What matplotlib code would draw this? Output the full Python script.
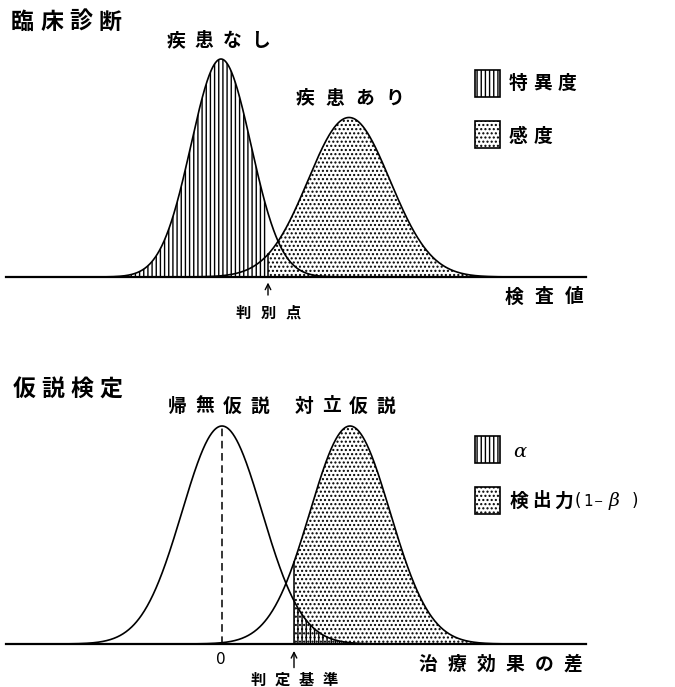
import numpy as np
import matplotlib
matplotlib.use('Agg')
import matplotlib.pyplot as plt
from matplotlib.patches import Rectangle

plt.rcParams['font.family'] = ['Noto Sans CJK JP', 'DejaVu Sans']
plt.rcParams['hatch.linewidth'] = 1.0

W, H = 675, 687

# 臨床診断: 検査値の分布 (任意単位)
healthy_mean, healthy_sd = 100, 15
sick_mean, sick_sd = 164, 20.5
cutoff_top = 123.5
xlim_top = (-7.5, 282.5)

# 仮説検定: 治療効果の差 (標準化)
null_mean, alt_mean, effect_sd = 0.0, 3.2, 1.0
cutoff_bot = 1.8
xlim_bot = (-5.4, 9.1)


def pdf(x, m, s):
    return np.exp(-0.5 * ((x - m) / s) ** 2) / (s * np.sqrt(2 * np.pi))


def px(x, y):
    # pixel position -> figure fraction
    return x / W, 1 - y / H


def spaced(x0, y, s, size, pitch, **kw):
    # letter-spaced label, x0 = centre of first character
    for i, ch in enumerate(s):
        fig.text(*px(x0 + i * pitch, y), ch, fontsize=size, ha='center',
                 va='center', fontweight='bold', **kw)


def legend_box(x, y, hatch):
    fig.add_artist(Rectangle(px(x, y + 27), 25 / W, 27 / H, transform=fig.transFigure,
                             facecolor='none', edgecolor='k', lw=1.2, hatch=hatch))


fig = plt.figure(figsize=(W / 100, H / 100), dpi=100)

# ---------- 臨床診断 ----------
ax1 = fig.add_axes([6 / W, (H - 277) / H, 580 / W, 260 / H])
x = np.linspace(*xlim_top, 1200)
xl = np.linspace(xlim_top[0], cutoff_top, 600)
xr = np.linspace(cutoff_top, xlim_top[1], 600)
ax1.fill_between(xl, 0, pdf(xl, healthy_mean, healthy_sd), facecolor='none',
                 edgecolor='k', lw=0, hatch='||||')
ax1.fill_between(xr, 0, pdf(xr, sick_mean, sick_sd), facecolor='none',
                 edgecolor='k', lw=0, hatch='....')
ax1.plot(x, pdf(x, healthy_mean, healthy_sd), 'k', lw=1.2)
ax1.plot(x, pdf(x, sick_mean, sick_sd), 'k', lw=1.2)
ax1.plot([cutoff_top, cutoff_top], [0, pdf(cutoff_top, sick_mean, sick_sd)], 'k', lw=1.1)
ax1.axhline(0, color='k', lw=1.6, clip_on=False)
ax1.annotate('', xy=(cutoff_top, 0), xytext=(0, -13), textcoords='offset points',
             arrowprops=dict(arrowstyle='->', lw=1.0, color='k', shrinkA=0, shrinkB=4),
             annotation_clip=False)
ax1.set_xlim(xlim_top)
ax1.set_ylim(0, pdf(healthy_mean, healthy_mean, healthy_sd) * 260 / 218)
ax1.axis('off')

# ---------- 仮説検定 ----------
ax2 = fig.add_axes([6 / W, (H - 644) / H, 580 / W, 260 / H])
x = np.linspace(*xlim_bot, 1200)
xr = np.linspace(cutoff_bot, xlim_bot[1], 600)
ax2.fill_between(xr, 0, pdf(xr, alt_mean, effect_sd), facecolor='none',
                 edgecolor='k', lw=0, hatch='....')
ax2.fill_between(xr, 0, pdf(xr, null_mean, effect_sd), facecolor='none',
                 edgecolor='k', lw=0, hatch='||||')
ax2.plot(x, pdf(x, null_mean, effect_sd), 'k', lw=1.2)
ax2.plot(x, pdf(x, alt_mean, effect_sd), 'k', lw=1.2)
ax2.plot([cutoff_bot, cutoff_bot], [0, pdf(cutoff_bot, alt_mean, effect_sd)], 'k', lw=1.1)
ax2.plot([null_mean, null_mean], [0, pdf(null_mean, null_mean, effect_sd)], 'k',
         lw=1.1, dashes=(5, 3))
ax2.axhline(0, color='k', lw=1.6, clip_on=False)
ax2.annotate('', xy=(cutoff_bot, 0), xytext=(0, -17), textcoords='offset points',
             arrowprops=dict(arrowstyle='->', lw=1.0, color='k', shrinkA=0, shrinkB=5),
             annotation_clip=False)
ax2.set_xlim(xlim_bot)
ax2.set_ylim(0, pdf(null_mean, null_mean, effect_sd) * 260 / 218)
ax2.axis('off')

# ---------- texts ----------
spaced(22.5, 22.5, '臨床診断', 16.5, 29)
spaced(176, 41, '疾患なし', 13.5, 28)
spaced(305, 98, '疾患あり', 13.5, 30)
spaced(518, 83, '特異度', 13.5, 24.5)
spaced(518, 136, '感度', 13.5, 25)
spaced(514, 297, '検査値', 13.5, 30)
spaced(243, 313, '判別点', 11, 25)

spaced(24, 389, '仮説検定', 16.5, 29)
spaced(177.5, 406, '帰無仮説', 13.5, 27.5)
spaced(304, 406, '対立仮説', 13.5, 27.3)
spaced(428, 664, '治療効果の差', 13.5, 29)
spaced(258, 680, '判定基準', 11, 24)
fig.text(*px(221, 659), '0', fontsize=11, ha='center', va='center', family='DejaVu Sans')

fig.text(*px(520, 452), 'α', fontsize=14, ha='center', va='center',
         style='italic', family='DejaVu Serif')
spaced(518.5, 501, '検出力', 13.5, 22.5)
fig.text(*px(578, 501), '(', fontsize=12, ha='center', va='center', family='DejaVu Sans')
fig.text(*px(588, 501), '1', fontsize=11, ha='center', va='center', family='DejaVu Sans')
fig.text(*px(599, 502), '−', fontsize=8, ha='center', va='center', family='DejaVu Sans')
fig.text(*px(614, 501), 'β', fontsize=13.5, ha='center', va='center',
         style='italic', family='DejaVu Serif')
fig.text(*px(635, 501), ')', fontsize=12, ha='center', va='center', family='DejaVu Sans')

legend_box(475, 70, '||||')
legend_box(475, 121, '....')
legend_box(475, 436, '||||')
legend_box(475, 487, '....')

fig.savefig('out.png', dpi=100)
